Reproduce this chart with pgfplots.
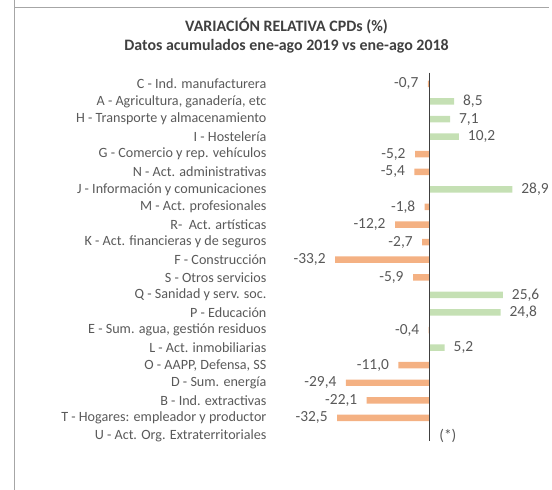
\documentclass[border=0pt]{standalone}
\usepackage{fontspec}
\setmainfont{Carlito}
\usepackage{pgfplots}
\usepackage{pgfplotstable}
\pgfplotsset{compat=1.18}
\usetikzlibrary{calc}
\definecolor{pos}{HTML}{C5E0B4}
\definecolor{neg}{HTML}{F4B183}
\definecolor{txt}{HTML}{595959}
\definecolor{ttl}{HTML}{404040}
\definecolor{framec}{HTML}{A6A6A6}
\definecolor{axc}{HTML}{404040}

% row index (0 = top), value in %
\pgfplotstableread{
row val
1 8.5
2 7.1
3 10.2
6 28.9
12 25.6
13 24.8
15 5.2
}\posdata
\pgfplotstableread{
row val
0 -0.7
4 -5.2
5 -5.4
7 -1.8
8 -12.2
9 -2.7
10 -33.2
11 -5.9
14 -0.4
16 -11.0
17 -29.4
18 -22.1
19 -32.5
}\negdata

\begin{document}
\begin{tikzpicture}
\begin{axis}[name=ax, scale only axis,
  width=280.7pt, height=370pt,
  xmin=-56, xmax=41.8, ymin=-0.64, ymax=20.3, y dir=reverse,
  axis line style={draw=none}, major tick length=0pt, xtick=\empty,
  ytick={0,...,20},
  yticklabels={C - Ind. manufacturera, {A - Agricultura, ganadería, etc},
    H - Transporte y almacenamiento, I - Hostelería,
    G - Comercio y rep. vehículos, N - Act. administrativas,
    J - Información y comunicaciones, M - Act. profesionales,
    R-\ \ Act. artísticas, K - Act. financieras y de seguros,
    F - Construcción, S - Otros servicios, Q - Sanidad y serv. soc.,
    P - Educación, {E - Sum. agua, gestión residuos}, L - Act. inmobiliarias,
    {O - AAPP, Defensa, SS}, D - Sum. energía\ , B - Ind. extractivas,
    T - Hogares: empleador y productor, U - Act. Org. Extraterritoriales},
  yticklabel style={text=txt, font=\fontsize{14.2}{16}\selectfont},
  clip=false,
  xbar, bar width=6.5pt, bar shift=0pt,
  nodes near coords,
  every node near coord/.append style={text=txt, font=\fontsize{15.5}{17}\selectfont},
  /pgf/number format/.cd, use comma, fixed, fixed zerofill, precision=1, assume math mode=true]
\addplot[fill=pos, draw=none,
  every node near coord/.append style={anchor=west, xshift=5.5pt}]
  table[x=val, y=row] {\posdata};
\addplot[fill=neg, draw=none,
  every node near coord/.append style={anchor=east, xshift=-6pt}]
  table[x=val, y=row] {\negdata};
\draw[axc, line width=1pt] (axis cs:0,-0.64) -- (axis cs:0,20.3);
\node[anchor=west, text=txt, font=\fontsize{15.5}{17}\selectfont, xshift=6pt]
  at (axis cs:0,20) {(*)};
\end{axis}
% image pixel frame: origin at the top-left corner of the reference
\coordinate (O) at ($(ax.south west)+(-271.3pt,443pt)$);
\begin{scope}[shift={(O)}, x=1pt, y=-1pt]
\path[use as bounding box] (0,0) rectangle (552,492);
\draw[framec, line width=1.5pt] (14.5,0) -- (14.5,492);
\draw[framec, line width=1.5pt] (14.5,7.5) -- (552,7.5);
\node[font=\bfseries\fontsize{16}{19}\selectfont, text=ttl, align=center] at (288,36)
  {VARIACIÓN RELATIVA CPDs (\%)\\Datos acumulados ene-ago 2019 vs ene-ago 2018};
\end{scope}
\end{tikzpicture}
\end{document}
